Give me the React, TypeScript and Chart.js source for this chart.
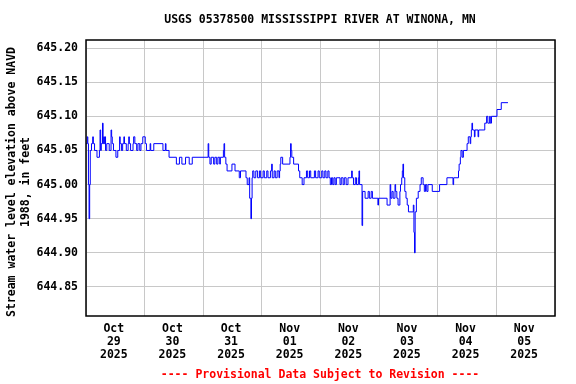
import React, { useEffect, useRef } from "react";
import { Chart, registerables } from "chart.js";

Chart.register(...registerables);

const TITLE = "USGS 05378500 MISSISSIPPI RIVER AT WINONA, MN";
const Y_TITLE_1 = "Stream water level elevation above NAVD";
const Y_TITLE_2 = "1988, in feet";
const FOOTER = "---- Provisional Data Subject to Revision ----";

// hours since Oct 29 2025 00:00
const hours = [
  0.0, 0.5, 0.75, 1.0, 1.25, 1.5, 1.75, 2.25, 2.75, 3.0, 3.5, 4.5, 5.5, 5.75, 6.0, 6.25, 6.75, 7.0, 7.25, 7.5,
  7.75, 8.0, 8.5, 9.5, 10.25, 10.5, 10.75, 11.25, 12.25, 13.0, 13.75, 14.0, 14.5, 15.0, 15.5, 15.75, 16.5, 17.25,
  17.5, 17.75, 18.25, 19.25, 19.5, 20.0, 20.75, 21.25, 22.0, 22.5, 23.25,
  24.25, 24.75, 26.25, 26.5, 27.75, 31.5, 32.5, 32.75, 34.0, 37.0, 38.25, 39.25, 40.75, 42.25, 43.5,
  50.0, 50.25, 50.75, 51.25, 52.25, 52.75, 53.5, 54.0, 54.75, 55.0, 56.25, 56.5, 56.75, 57.25, 57.75, 59.75,
  61.0, 62.75, 63.25, 65.5, 66.0, 66.75, 67.0, 67.5, 67.75, 68.0, 68.25, 68.75, 69.5, 70.25, 71.0, 71.5, 72.5,
  73.0, 74.0, 74.5, 75.5, 76.0, 76.25, 77.0, 77.5, 78.25, 79.0, 79.25, 79.5, 79.75, 80.5, 83.5, 83.75, 84.0,
  84.25, 85.0, 87.0, 87.5, 88.5, 89.25, 90.25, 90.75, 91.5, 92.0, 93.5, 94.0, 95.0, 95.5, 96.5, 97.0, 97.75,
  98.25, 99.0, 99.5, 100.0, 100.5, 101.0, 101.5, 102.0, 102.5, 104.0, 104.5, 105.25, 105.75, 106.5, 107.25,
  108.75, 109.0, 109.5, 110.25, 110.75, 111.5, 111.75, 112.0, 113.0, 113.25, 114.25, 115.5, 116.0, 116.75,
  117.25, 119.5, 119.75, 123.25, 124.5, 124.75, 125.25, 125.75, 126.5, 126.75, 127.25, 127.75, 128.5, 128.75,
  129.25, 129.5, 129.75, 130.0, 130.5, 131.0, 131.5, 132.0, 134.0, 134.25, 134.5, 134.75, 135.25, 136.0,
  136.75, 137.25, 138.0, 138.5, 139.0, 139.5, 140.0, 141.75, 144.75, 147.75, 150.25, 150.5, 152.5, 152.75,
  153.25, 153.5, 154.0, 154.5, 156.0, 156.5, 157.25, 157.5, 157.75, 158.0, 158.25, 159.0, 159.25, 160.5,
  160.75, 163.25, 164.0, 164.5, 165.25, 165.5, 166.0, 168.25, 170.0, 172.75,
];

const levels = [
  645.06, 645.07, 645.06, 645.0, 644.95, 645.0, 645.05, 645.06, 645.07, 645.06, 645.05, 645.04, 645.05, 645.08,
  645.05, 645.06, 645.09, 645.06, 645.07, 645.06, 645.07, 645.05, 645.06, 645.05, 645.08, 645.07, 645.06,
  645.05, 645.04, 645.05, 645.07, 645.06, 645.05, 645.06, 645.07, 645.06, 645.05, 645.06, 645.07, 645.06,
  645.05, 645.06, 645.07, 645.06, 645.05, 645.06, 645.05, 645.06, 645.07,
  645.06, 645.05, 645.06, 645.05, 645.06, 645.05, 645.06, 645.05, 645.04, 645.03, 645.04, 645.03, 645.04,
  645.03, 645.04,
  645.06, 645.04, 645.03, 645.04, 645.03, 645.04, 645.03, 645.04, 645.03, 645.04, 645.05, 645.06, 645.04,
  645.03, 645.02, 645.03,
  645.02, 645.01, 645.02, 645.01, 645.0, 645.01, 644.98, 644.95, 644.98, 645.01, 645.02, 645.01, 645.02,
  645.01, 645.02, 645.01, 645.02,
  645.01, 645.02, 645.01, 645.02, 645.03, 645.01, 645.02, 645.01, 645.02, 645.01, 645.02, 645.03, 645.04,
  645.03, 645.04, 645.06, 645.05,
  645.04, 645.03, 645.02, 645.01, 645.0, 645.01, 645.02, 645.01, 645.02, 645.01, 645.02, 645.01, 645.02,
  645.01, 645.02, 645.01, 645.02,
  645.01, 645.02, 645.01, 645.0, 645.01, 645.0, 645.01, 645.0, 645.01, 645.0, 645.01, 645.0, 645.01, 645.0,
  645.01,
  645.02, 645.01, 645.0, 645.01, 645.0, 645.01, 645.02, 645.0, 644.94, 644.99, 644.98, 644.99, 644.98, 644.99,
  644.98, 644.97, 644.98, 644.97, 645.0, 644.98, 644.99, 644.98, 645.0, 644.99, 644.98, 644.97, 644.99, 645.0,
  645.01, 645.02, 645.03, 645.01, 644.99, 644.98, 644.97, 644.96, 644.97, 644.93, 644.9, 644.96, 644.98, 644.99,
  645.0, 645.01, 645.0, 644.99, 645.0, 644.99, 645.0, 644.99, 645.0, 645.01, 645.0, 645.01, 645.02, 645.03,
  645.04, 645.05, 645.04, 645.05, 645.06, 645.07, 645.06, 645.07, 645.08, 645.09, 645.08, 645.07, 645.08, 645.07,
  645.08, 645.09, 645.1, 645.09, 645.1, 645.09, 645.1, 645.11, 645.12, 645.12,
];

const yTicks = [644.85, 644.9, 644.95, 645.0, 645.05, 645.1, 645.15, 645.2];
const xTicks = [0, 12, 24, 36, 48, 60, 72, 84, 96, 108, 120, 132, 144, 156, 168, 180, 192];
const dayLabels = [
  ["Oct", "29", "2025"],
  ["Oct", "30", "2025"],
  ["Oct", "31", "2025"],
  ["Nov", "01", "2025"],
  ["Nov", "02", "2025"],
  ["Nov", "03", "2025"],
  ["Nov", "04", "2025"],
  ["Nov", "05", "2025"],
];

const FONT = "'DejaVu Sans Mono', monospace";

const decorPlugin = {
  id: "decor",
  afterDraw(chart: any) {
    const { ctx, chartArea } = chart;
    ctx.save();
    ctx.strokeStyle = "#000";
    ctx.lineWidth = 1.5;
    ctx.strokeRect(
      chartArea.left,
      chartArea.top,
      chartArea.right - chartArea.left,
      chartArea.bottom - chartArea.top
    );
    ctx.font = `bold 11.5px ${FONT}`;
    ctx.textAlign = "center";
    ctx.textBaseline = "middle";
    ctx.fillStyle = "#000";
    ctx.fillText(TITLE, 320, 20);
    ctx.fillStyle = "#ff0000";
    ctx.fillText(FOOTER, 320, 375);
    ctx.fillStyle = "#000";
    ctx.translate(0, 182);
    ctx.rotate(-Math.PI / 2);
    ctx.fillText(Y_TITLE_1, 0, 12);
    ctx.fillText(Y_TITLE_2, 0, 26);
    ctx.restore();
  },
};

export default function App() {
  const canvasRef = useRef<HTMLCanvasElement | null>(null);

  useEffect(() => {
    document.body.style.margin = "0";
    const canvas = canvasRef.current;
    if (!canvas) return;
    const points = hours.map((h, i) => ({ x: h, y: levels[i] }));
    const chart = new Chart(canvas, {
      type: "line",
      data: {
        datasets: [
          {
            data: points,
            borderColor: "#0000ff",
            borderWidth: 1,
            pointRadius: 0,
            stepped: true,
            fill: false,
          },
        ],
      },
      options: {
        animation: false,
        responsive: false,
        maintainAspectRatio: false,
        layout: { padding: { left: 0, top: 40, right: 21, bottom: 0 } },
        plugins: {
          legend: { display: false },
          tooltip: { enabled: false },
          title: { display: false },
        },
        scales: {
          x: {
            type: "linear",
            min: 0,
            max: 192,
            border: { display: false },
            grid: {
              drawTicks: false,
              color: (ctx: any) =>
                ctx.tick && ctx.tick.value % 24 === 0 ? "#c8c8c8" : "rgba(0,0,0,0)",
              lineWidth: 1,
            },
            afterBuildTicks: (axis: any) => {
              axis.ticks = xTicks.map((v) => ({ value: v }));
            },
            afterFit: (axis: any) => {
              axis.height = 68;
            },
            ticks: {
              autoSkip: false,
              maxRotation: 0,
              minRotation: 0,
              padding: 7,
              labelOffset: -1.5,
              color: "#000",
              font: { family: FONT, size: 11.5, weight: "bold", lineHeight: 1.1 },
              callback: (value: any) => {
                const v = Number(value);
                return v % 24 === 12 ? dayLabels[(v - 12) / 24] : "";
              },
            },
          },
          y: {
            type: "linear",
            min: 644.8075,
            max: 645.2118,
            border: { display: false },
            grid: { drawTicks: false, color: "#c8c8c8", lineWidth: 1 },
            afterBuildTicks: (axis: any) => {
              axis.ticks = yTicks.map((v) => ({ value: v }));
            },
            afterFit: (axis: any) => {
              axis.width = 86;
            },
            ticks: {
              padding: 8,
              color: "#000",
              font: { family: FONT, size: 11.5, weight: "bold" },
              callback: (value: any) => Number(value).toFixed(2),
            },
          },
        },
      },
      plugins: [decorPlugin],
    });
    return () => chart.destroy();
  }, []);

  return (
    <div style={{ width: 576, height: 384, background: "#fff" }}>
      <canvas ref={canvasRef} width={576} height={384} style={{ display: "block" }} />
    </div>
  );
}
